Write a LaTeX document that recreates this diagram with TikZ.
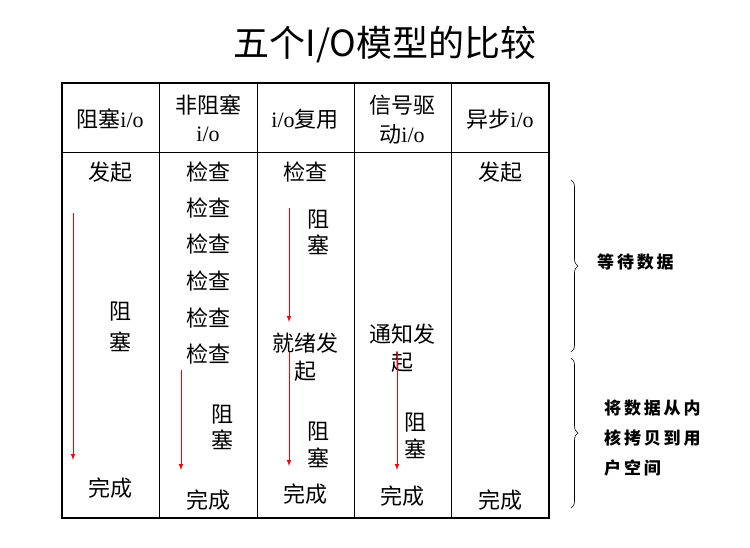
\documentclass[tikz,border=0pt]{standalone}
\usepackage{fontspec}
\setmainfont{Liberation Serif}
\newfontfamily\cjk{Noto Sans CJK SC}
\usetikzlibrary{decorations.pathreplacing}
\begin{document}
\begin{tikzpicture}[x=1pt,y=-1pt,
  t/.style={font=\fontsize{22}{24}\selectfont,inner sep=0pt},
  arr/.style={red,line width=1pt,-latex},
  br/.style={decorate,decoration={brace,amplitude=7pt},line width=0.6pt},
  side/.style={font=\cjk\bfseries\fontsize{17}{19}\selectfont,inner sep=0pt,anchor=west}]
\useasboundingbox (0,0) rectangle (750,547);
\node[inner sep=0pt,font=\cjk\fontsize{36}{38}\selectfont] (title) at (385,45) {五个I/O模型的比较};
\draw[line width=1.5pt] (62,83) rectangle (549,518);
\draw[line width=1pt] (62,152) -- (549,152);
\foreach \x in {159,257,354,451} \draw[line width=1pt] (\x,83) -- (\x,518);
% headers
\node[t] (h1) at (110,119) {{\cjk 阻塞}i/o};
\node[t] (h2a) at (208,105) {\cjk 非阻塞};
\node[t] (h2b) at (208,134) {i/o};
\node[t] (h3) at (305,119) {i/o{\cjk 复用}};
\node[t] (h4a) at (402,105) {\cjk 信号驱};
\node[t] (h4b) at (402,134) {{\cjk 动}i/o};
\node[t] (h5) at (500,119) {{\cjk 异步}i/o};
% col1
\node[t] (c1a) at (110,172) {\cjk 发起};
\node[t] (c1b) at (120,312) {\cjk 阻};
\node[t] (c1c) at (120,342) {\cjk 塞};
\node[t] (c1d) at (110,488) {\cjk 完成};
\coordinate (a1s) at (73,213); \coordinate (a1e) at (73,460);
\draw[arr] (a1s) -- (a1e);
% col2
\foreach \y [count=\i] in {172,208,244,281,318,354} \node[t] (c2\i) at (208,\y) {\cjk 检查};
\node[t] (c2z) at (222,415) {\cjk 阻};
\node[t] (c2s) at (222,440) {\cjk 塞};
\node[t] (c2w) at (208,500) {\cjk 完成};
\coordinate (a2s) at (181,370); \coordinate (a2e) at (181,470);
\draw[arr] (a2s) -- (a2e);
% col3
\node[t] (c3a) at (305,172) {\cjk 检查};
\node[t] (c3b) at (318,220) {\cjk 阻};
\node[t] (c3c) at (318,245) {\cjk 塞};
\node[t] (c3d) at (305,343) {\cjk 就绪发};
\node[t] (c3e) at (305,371) {\cjk 起};
\node[t] (c3f) at (318,432) {\cjk 阻};
\node[t] (c3g) at (318,458) {\cjk 塞};
\node[t] (c3h) at (305,494) {\cjk 完成};
\coordinate (a3s) at (289,208); \coordinate (a3e) at (289,322);
\draw[arr] (a3s) -- (a3e);
\coordinate (a4s) at (289,352); \coordinate (a4e) at (289,466);
\draw[arr] (a4s) -- (a4e);
% col4
\node[t] (c4a) at (402,334) {\cjk 通知发};
\node[t] (c4b) at (402,362) {\cjk 起};
\node[t] (c4c) at (415,423) {\cjk 阻};
\node[t] (c4d) at (415,449) {\cjk 塞};
\node[t] (c4e) at (402,496) {\cjk 完成};
\coordinate (a5s) at (397,352); \coordinate (a5e) at (397,470);
\draw[arr] (a5s) -- (a5e);
% col5
\node[t] (c5a) at (500,172) {\cjk 发起};
\node[t] (c5b) at (500,500) {\cjk 完成};
% braces
\coordinate (b1s) at (571,180); \coordinate (b1e) at (571,352);
\draw[br] (b1s) -- (b1e);
\coordinate (b2s) at (571,358); \coordinate (b2e) at (571,508);
\draw[br] (b2s) -- (b2e);
\node[side] (s1) at (597,262) {等\,待\,数\,据};
\node[side] (s2) at (604,408) {将\,数\,据\,从\,内};
\node[side] (s3) at (604,438) {核\,拷\,贝\,到\,用};
\node[side] (s4) at (604,468) {户\,空\,间};
\end{tikzpicture}
\end{document}
